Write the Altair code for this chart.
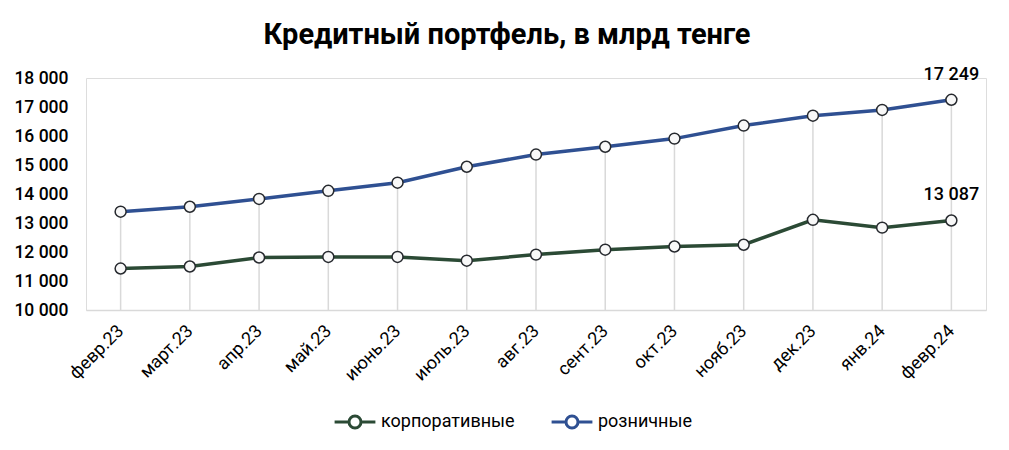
import altair as alt
import pandas as pd

months = ["февр.23", "март.23", "апр.23", "май.23", "июнь.23", "июль.23", "авг.23",
          "сент.23", "окт.23", "нояб.23", "дек.23", "янв.24", "февр.24"]
corporate = [11430, 11500, 11810, 11830, 11830, 11700, 11910, 12080, 12190, 12250, 13110, 12840, 13087]
retail = [13390, 13560, 13830, 14110, 14390, 14940, 15360, 15630, 15910, 16360, 16700, 16900, 17249]
series_names = ["корпоративные", "розничные"]
colors = ["#2B4A35", "#2F5092"]

rows = []
for name, vals in zip(series_names, [corporate, retail]):
    for m, v in zip(months, vals):
        rows.append({"month": m, "series": name, "value": v,
                     "label": f"{v:,}".replace(",", " ") if m == months[-1] else ""})
df = pd.DataFrame(rows)

FONT = "Roboto"

x = alt.X("month:N", sort=months, title=None,
          scale=alt.Scale(type="point", padding=0.5),
          axis=alt.Axis(labelAngle=-45, labelAlign="right", labelBaseline="middle",
                        labelFontSize=18, labelColor="#000", labelFont=FONT,
                        labelPadding=18, ticks=False, domainColor="#d9d9d9",
                        domainWidth=1.5, grid=False))
y = alt.Y("value:Q", title=None,
          scale=alt.Scale(domain=[10000, 18000], nice=False, zero=False),
          axis=alt.Axis(values=list(range(10000, 18001, 1000)), domain=False, ticks=False,
                        grid=False, labelFontSize=17.5, labelColor="#000", labelFont=FONT,
                        labelFontWeight=500, labelPadding=18,
                        labelExpr="replace(format(datum.value, ',d'), ',', ' ')"))

base = alt.Chart(df)

drops = base.transform_filter(alt.datum.series == "розничные").mark_rule(
    color="#d9d9d9", strokeWidth=1.5
).encode(x=x, y=y, y2=alt.datum(10000))

legend_path = "M-3.4,0L-1,0M1,0L3.4,0M-1,0A1,1 0 1,0 1,0A1,1 0 1,0 -1,0Z"

lines = base.mark_line(strokeWidth=3.5).encode(
    x=x, y=y,
    color=alt.Color("series:N", sort=series_names,
                    scale=alt.Scale(domain=series_names, range=colors),
                    legend=alt.Legend(title=None, orient="none", direction="horizontal",
                                      legendX=260, legendY=335,
                                      symbolType=legend_path, symbolSize=144,
                                      symbolStrokeWidth=3, symbolFillColor="#ffffff",
                                      labelFontSize=18, labelFont=FONT, labelColor="#000",
                                      labelOffset=17, columnPadding=30))
)

points = base.mark_point(filled=True, fill="#f8f8f8", stroke="#26292e",
                         strokeWidth=1.5, size=120, opacity=1).encode(x=x, y=y)

labels = base.transform_filter(alt.datum.label != "").mark_text(
    fontSize=18, font=FONT, fontWeight=500, color="#000", dy=-20, baseline="alphabetic"
).encode(x=x, y=y, text="label:N")

chart = alt.layer(drops, lines, points, labels).properties(
    width=900, height=232,
    title=alt.TitleParams("Кредитный портфель, в млрд тенге", fontSize=29, font=FONT,
                          fontWeight="bold", color="#000", anchor="middle", dx=-29, dy=-12),
    autosize=alt.AutoSizeParams(type="none"),
    padding={"left": 86, "top": 78, "right": 23, "bottom": 140},
).configure_view(stroke=None).configure(background="white")

chart.save("out.html", embed_options={"renderer": "svg", "actions": False})
